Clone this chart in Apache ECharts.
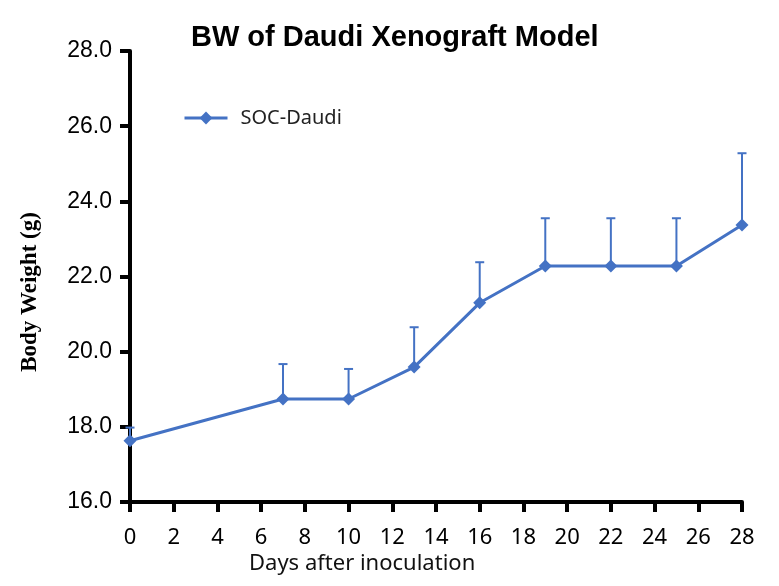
<!DOCTYPE html>
<html>
<head>
<meta charset="utf-8">
<script src="https://cdn.jsdelivr.net/npm/echarts@6/dist/echarts.min.js"></script>
<style>html,body{margin:0;padding:0;background:#fff}#c{width:779px;height:586px}</style>
</head>
<body>
<div id="c"></div>
<script>
const days = [0, 7, 10, 13, 16, 19, 22, 25, 28];
const meanBW = [17.63, 18.74, 18.74, 19.59, 21.30, 22.28, 22.28, 22.28, 23.37];
const sdBW = [0.35, 0.93, 0.80, 1.06, 1.08, 1.27, 1.27, 1.27, 1.91];
const seriesName = 'SOC-Daudi';
const xTicks = {min: 0, max: 28, interval: 2};
const yTicks = {min: 16, max: 28, interval: 2};
const titleText = 'BW of Daudi Xenograft Model';
const xName = 'Days after inoculation';
const yName = 'Body Weight (g)';

const blue = '#4472C4';
const chart = echarts.init(document.getElementById('c'));
const lineData = days.map((d, i) => [d, meanBW[i]]);
const errData = days.map((d, i) => [d, meanBW[i], meanBW[i] + sdBW[i]]);

chart.setOption({
  backgroundColor: '#fff',
  animation: false,
  title: [{
    text: titleText,
    left: 186,
    top: 18,
    textStyle: {fontFamily: 'Liberation Sans', fontWeight: 'bold', fontSize: 29, color: '#000'}
  }, {
    text: xName,
    left: 244,
    top: 548,
    textStyle: {fontFamily: 'Noto Sans', fontWeight: 'normal', fontSize: 22, color: '#111'}
  }],
  graphic: [{
    type: 'text',
    x: 30,
    y: 292,
    rotation: Math.PI / 2,
    style: {
      text: yName,
      font: 'bold 23px "Liberation Serif"',
      fill: '#000',
      textAlign: 'center',
      textVerticalAlign: 'middle'
    }
  }],
  legend: {
    left: 178,
    top: 103,
    itemWidth: 43,
    itemHeight: 16,
    lineStyle: {width: 3},
    textStyle: {fontFamily: 'Noto Sans', fontSize: 20, color: '#222', padding: [0, 0, 0, 8]},
    data: [seriesName]
  },
  grid: {left: 130, right: 37, top: 51, bottom: 84},
  xAxis: {
    type: 'value',
    min: xTicks.min, max: xTicks.max, interval: xTicks.interval,
    axisLine: {lineStyle: {color: '#000', width: 4}},
    axisTick: {show: true, length: 10, lineStyle: {color: '#000', width: 4}},
    axisLabel: {margin: 25, fontFamily: 'Noto Sans', fontSize: 22, color: '#000'},
    splitLine: {show: false}
  },
  yAxis: {
    type: 'value',
    min: yTicks.min, max: yTicks.max, interval: yTicks.interval,
    axisLine: {show: true, lineStyle: {color: '#000', width: 4}},
    axisTick: {show: true, length: 10, lineStyle: {color: '#000', width: 4}},
    axisLabel: {margin: 18, fontFamily: 'Liberation Sans', fontSize: 23, color: '#000', formatter: v => v.toFixed(1)},
    splitLine: {show: false}
  },
  series: [{
    type: 'custom',
    name: 'err',
    data: errData,
    z: 1,
    renderItem: function (params, api) {
      const x = api.value(0);
      const p0 = api.coord([x, api.value(1)]);
      const p1 = api.coord([x, api.value(2)]);
      const cap = 4.5;
      return {
        type: 'group',
        children: [
          {type: 'line', shape: {x1: p0[0], y1: p0[1], x2: p1[0], y2: p1[1]}, style: {stroke: blue, lineWidth: 2}},
          {type: 'line', shape: {x1: p1[0] - cap, y1: p1[1], x2: p1[0] + cap, y2: p1[1]}, style: {stroke: blue, lineWidth: 2}}
        ]
      };
    }
  }, {
    type: 'line',
    name: seriesName,
    data: lineData,
    z: 3,
    symbol: 'diamond',
    symbolSize: 13,
    itemStyle: {color: blue},
    lineStyle: {color: blue, width: 3}
  }]
});
</script>
</body>
</html>
